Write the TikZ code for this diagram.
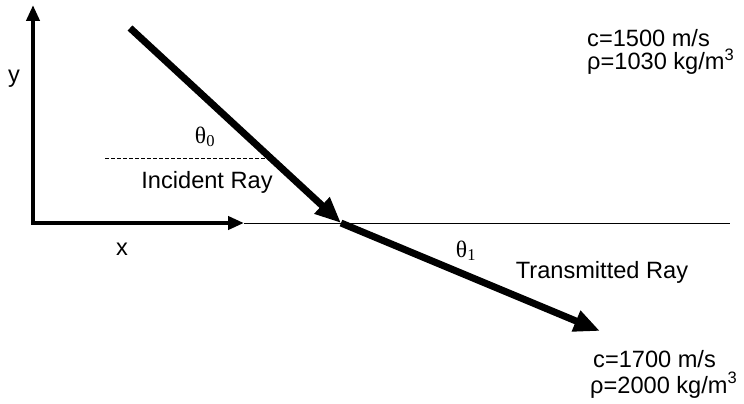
\documentclass[tikz,border=0pt]{standalone}
\usepackage{fontspec}
\setmainfont{Liberation Sans}
\newfontfamily\thetafont{Liberation Serif}
\usetikzlibrary{arrows.meta}
\tikzset{
    axis/.style={line width=4pt, line join=miter, {Triangle[length=16pt,width=13pt]}-{Triangle[length=16pt,width=13pt]}},
    ray/.style={line width=7pt, -{Triangle[length=26pt,width=21pt]}},
    lbl/.style={font=\fontsize{23.6}{28}\selectfont, inner sep=0pt, anchor=base},
    side/.style={lbl, anchor=base west},
}

\begin{document}
\begin{tikzpicture}[x=1pt,y=-1pt]
    \useasboundingbox (0,0) rectangle (744,404);
    \coordinate (origin) at (33,223);
    \coordinate (yTip) at (33,5);
    \coordinate (xTip) at (244,223);
    \coordinate (surfEnd) at (730,223);
    \coordinate (source) at (130,28);
    \coordinate (hit) at (341,223);
    \coordinate (target) at (600,331);
    \coordinate (dashL) at (105,158);
    \coordinate (dashR) at (268,158);
    \draw[line width=1pt] (xTip) -- (surfEnd);
    \draw[axis] (xTip) -- (origin) -- (yTip);
    \draw[line width=0.8pt, dash pattern=on 4pt off 2pt] (dashL) -- (dashR);
    \draw[ray] (source) -- (hit);
    \draw[ray] (hit) -- (target);
    \node[lbl] (yLabel) at (14,82) {y};
    \node[lbl] (xLabel) at (122,255) {x};
    \node[lbl] (thetaIn) at (205,143) {\thetafont θ\textsubscript{0}};
    \node[lbl] (incLabel) at (207,188) {Incident Ray};
    \node[lbl] (thetaOut) at (466,257) {\thetafont θ\textsubscript{1}};
    \node[lbl] (transLabel) at (602,278) {Transmitted Ray};
    \node[side] (cTop) at (587,47) {c=1500 m/s};
    \node[side] (rhoTop) at (587,70) {ρ=1030 kg/m\textsuperscript{3}};
    \node[side] (cBot) at (593,367) {c=1700 m/s};
    \node[side] (rhoBot) at (590,393) {ρ=2000 kg/m\textsuperscript{3}};
\end{tikzpicture}
\end{document}
